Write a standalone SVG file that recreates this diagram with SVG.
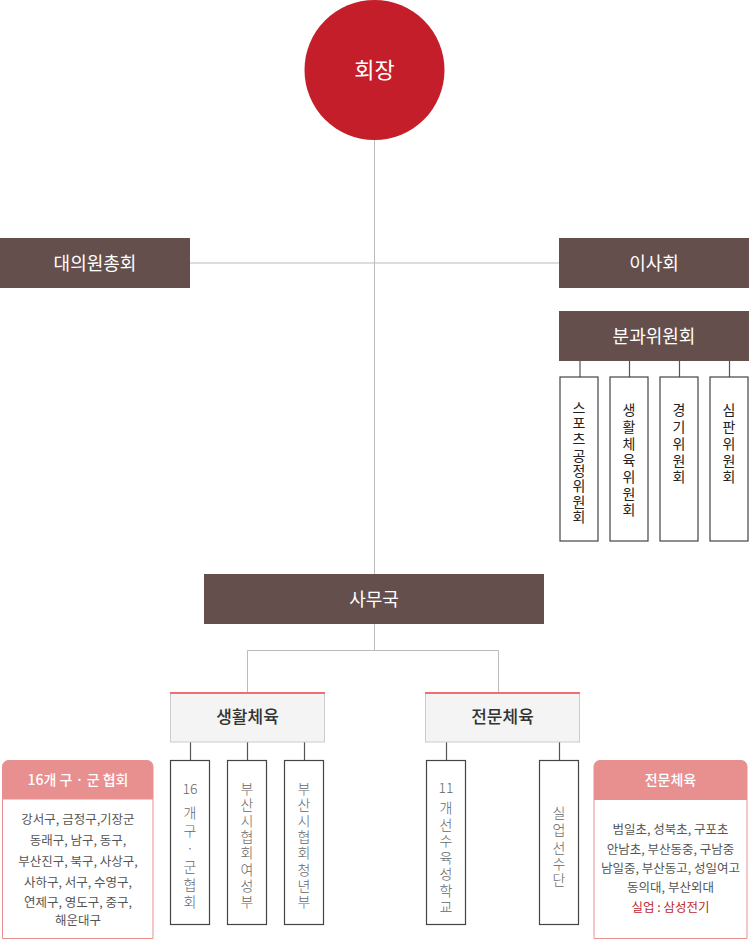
<svg xmlns="http://www.w3.org/2000/svg" width="750" height="942" viewBox="0 0 750 942">
<style>
text{font-family:"Noto Sans CJK KR","Noto Sans",sans-serif}
.brown{fill:#654f4d}
.wt{fill:#fff;font-size:18px;text-anchor:middle}
.con{stroke:#bbb;stroke-width:1;fill:none}
.tick{stroke:#555;stroke-width:1.2;fill:none}
.vbox{fill:#fff;stroke:#444;stroke-width:1.2}
.vert{writing-mode:vertical-rl;text-orientation:upright;font-size:14px}
.vt{fill:#222}
.vg{fill:#666;font-weight:300}
.num{font-size:14px;text-anchor:middle;fill:#666;font-weight:300}
.sub{fill:#f4f4f4;stroke:#ccc;stroke-width:1}
.subt{font-size:17px;text-anchor:middle;fill:#333;font-weight:500}
.info{fill:#fff;stroke:#e89090;stroke-width:1}
.infoh{fill:#e88f8f}
.iht{fill:#fff;font-size:14px;text-anchor:middle;font-weight:500}
.ibt{fill:#555;font-size:12.5px;text-anchor:middle}
</style>
<g id="connectors">
<line class="con" x1="374.5" y1="140" x2="374.5" y2="574"/>
<line class="con" x1="190" y1="263" x2="559" y2="263"/>
<line class="con" x1="374.5" y1="624" x2="374.5" y2="650.5"/>
<polyline class="con" points="247.5,692 247.5,650.5 498.5,650.5 498.5,692"/>
<line class="tick" x1="580" y1="361" x2="580" y2="377"/>
<line class="tick" x1="629.5" y1="361" x2="629.5" y2="377"/>
<line class="tick" x1="679.5" y1="361" x2="679.5" y2="377"/>
<line class="tick" x1="729.5" y1="361" x2="729.5" y2="377"/>
<line class="tick" x1="190.5" y1="742" x2="190.5" y2="760"/>
<line class="tick" x1="247.5" y1="742" x2="247.5" y2="760"/>
<line class="tick" x1="304.5" y1="742" x2="304.5" y2="760"/>
<line class="tick" x1="446.5" y1="742" x2="446.5" y2="760"/>
<line class="tick" x1="559.5" y1="742" x2="559.5" y2="760"/>
</g>
<g id="president">
<circle cx="374.5" cy="70" r="70" fill="#c41e2b"/>
<text x="374.5" y="78" fill="#fff" font-size="22" text-anchor="middle">회장</text>
</g>
<g id="delegates">
<rect class="brown" x="0" y="238" width="190" height="50"/>
<text class="wt" x="95" y="269.5">대의원총회</text>
</g>
<g id="board">
<rect class="brown" x="559" y="238" width="190" height="50"/>
<text class="wt" x="654" y="269.5">이사회</text>
</g>
<g id="committees">
<rect class="brown" x="559" y="311" width="190" height="50"/>
<text class="wt" x="654" y="342.5">분과위원회</text>
</g>
<g id="c1">
<rect class="vbox" x="560" y="377" width="38" height="164"/>
<text class="vert vt" x="579" y="400.5" style="letter-spacing:1.4px;word-spacing:-13.8px">스포츠 공정위원회</text>
</g>
<g id="c2">
<rect class="vbox" x="610" y="377" width="38" height="164"/>
<text class="vert vt" x="629" y="403" style="letter-spacing:2.67px">생활체육위원회</text>
</g>
<g id="c3">
<rect class="vbox" x="660" y="377" width="38" height="164"/>
<text class="vert vt" x="679" y="403" style="letter-spacing:2.75px">경기위원회</text>
</g>
<g id="c4">
<rect class="vbox" x="710" y="377" width="38" height="164"/>
<text class="vert vt" x="729" y="403" style="letter-spacing:2.75px">심판위원회</text>
</g>
<g id="secretariat">
<rect class="brown" x="204" y="574" width="340" height="50"/>
<text class="wt" x="374" y="605.5">사무국</text>
</g>
<g id="life">
<rect class="sub" x="170.5" y="692.5" width="154" height="49.5"/>
<line x1="170" y1="693" x2="325" y2="693" stroke="#ee6e72" stroke-width="2"/>
<text class="subt" x="247.5" y="723">생활체육</text>
</g>
<g id="elite">
<rect class="sub" x="425.5" y="692.5" width="154" height="49.5"/>
<line x1="425" y1="693" x2="580" y2="693" stroke="#ee6e72" stroke-width="2"/>
<text class="subt" x="502.5" y="723">전문체육</text>
</g>
<g id="l1">
<rect class="vbox" x="170.5" y="760.5" width="39" height="164" stroke="#555"/>
<text class="num" x="190" y="794">16</text>
<text class="vert vg" x="190" y="806" style="letter-spacing:3.8px">개구·군협회</text>
</g>
<g id="l2">
<rect class="vbox" x="227.5" y="760.5" width="39" height="164" stroke="#555"/>
<text class="vert vg" x="247" y="782" style="letter-spacing:2px;word-spacing:-15.2px">부산시협회 여성부</text>
</g>
<g id="l3">
<rect class="vbox" x="284.5" y="760.5" width="39" height="164" stroke="#555"/>
<text class="vert vg" x="304" y="782" style="letter-spacing:2px;word-spacing:-15.2px">부산시협회 청년부</text>
</g>
<g id="e1">
<rect class="vbox" x="426.5" y="760.5" width="39" height="164" stroke="#555"/>
<text class="num" x="446" y="793">11</text>
<text class="vert vg" x="446" y="801" style="letter-spacing:2.5px">개선수육성학교</text>
</g>
<g id="e2">
<rect class="vbox" x="539.5" y="760.5" width="39" height="164" stroke="#555"/>
<text class="vert vg" x="559" y="806" style="letter-spacing:2.25px;word-spacing:-14.5px">실업 선수단</text>
</g>
<g id="info-left">
<path class="info" d="M2.5,938.5 V766.5 a6,6 0 0 1 6,-6 H147 a6,6 0 0 1 6,6 V938.5 Z"/>
<path class="infoh" d="M2.5,799.5 V766.5 a6,6 0 0 1 6,-6 H147 a6,6 0 0 1 6,6 V799.5 Z"/>
<text class="iht" x="78" y="785">16개 구 · 군 협회</text>
<text class="ibt"><tspan x="78" y="824">강서구, 금정구,기장군</tspan><tspan x="78" y="845">동래구, 남구, 동구,</tspan><tspan x="78" y="866">부산진구, 북구, 사상구,</tspan><tspan x="78" y="887">사하구, 서구, 수영구,</tspan><tspan x="78" y="907">연제구, 영도구, 중구,</tspan><tspan x="78" y="925">해운대구</tspan></text>
</g>
<g id="info-right">
<path class="info" d="M594,938.5 V766.5 a6,6 0 0 1 6,-6 H741 a6,6 0 0 1 6,6 V938.5 Z"/>
<path class="infoh" d="M594,800 V766.5 a6,6 0 0 1 6,-6 H741 a6,6 0 0 1 6,6 V800 Z"/>
<text class="iht" x="670.5" y="785">전문체육</text>
<text class="ibt"><tspan x="670.5" y="834">범일초, 성북초, 구포초</tspan><tspan x="670.5" y="853.5">안남초, 부산동중, 구남중</tspan><tspan x="670.5" y="873">남일중, 부산동고, 성일여고</tspan><tspan x="670.5" y="892">동의대, 부산외대</tspan><tspan x="670.5" y="912" fill="#c0282d">실업 : 삼성전기</tspan></text>
</g>
</svg>
